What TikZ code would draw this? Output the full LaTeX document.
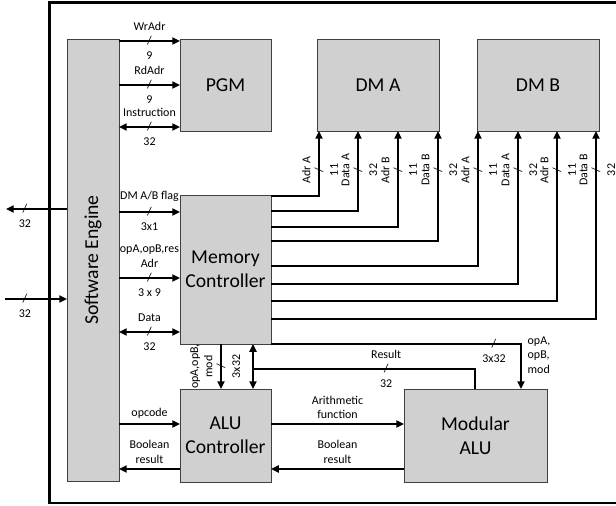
\documentclass[tikz,border=0pt]{standalone}
\usepackage{fontspec}
\setmainfont{Carlito}
\usepackage{graphicx}
\usetikzlibrary{arrows.meta,positioning}
\definecolor{boxgray}{RGB}{208,208,208}

\tikzset{
  blk/.style={draw=black!75, fill=boxgray, line width=0.6pt, inner sep=0pt,
    outer sep=0pt, align=center, font=\fontsize{14}{17}\selectfont},
  sig/.style={line width=1.4pt, -{Triangle[length=5.5pt,width=5pt]}},
  bidir/.style={line width=1.4pt,
    {Triangle[length=5.5pt,width=5pt]}-{Triangle[length=5.5pt,width=5pt]}},
  wire/.style={line width=1.4pt},
  lbl/.style={font=\fontsize{8.5}{10.3}\selectfont, inner sep=1pt, align=center},
  slash/.style={font=\fontsize{8.5}{10}\selectfont, inner sep=0pt},
  vl/.style={lbl, rotate=90, anchor=south, outer sep=5pt},
  vr/.style={lbl, rotate=90, anchor=north, outer sep=7pt},
}

\begin{document}
\begin{tikzpicture}[x=0.025cm, y=-0.025cm]
\useasboundingbox (0,0) rectangle (616,505);

% outer frame (right side runs off the page)
\draw[line width=1.7pt] (49.5,2.5) rectangle (680,502.8);

% blocks
\node[blk, minimum width=1.3cm, minimum height=11.05cm] (se) at (93,260) {\rotatebox{90}{Software Engine}};
\node[blk, minimum width=2.275cm, minimum height=2.3cm] (pgm) at (225.5,85) {PGM};
\node[blk, minimum width=3.05cm, minimum height=2.3cm] (dma) at (378,85) {DM A};
\node[blk, minimum width=3.05cm, minimum height=2.3cm] (dmb) at (538,85) {DM B};
\node[blk, minimum width=2.275cm, minimum height=3.725cm] (mc) at (225.5,269.5) {Memory\\Controller};
\node[blk, minimum width=2.275cm, minimum height=2.325cm] (aluc) at (225.5,435.5) {ALU\\Controller};
\node[blk, minimum width=3.575cm, minimum height=2.325cm] (malu) at (475.5,435.5) {Modular\\ALU};

% external ports
\coordinate (extout) at (6,209);
\coordinate (extin) at (5,299);
\draw[sig] (se.west |- extout) -- node[slash, pos=0.69] {/} node[lbl, pos=0.69, below=6pt] {32} (extout);
\draw[sig] (extin) -- node[slash, pos=0.32] {/} node[lbl, pos=0.32, below=6pt] {32} (se.west |- extin);

% software engine to PGM
\draw[sig] (se.east |- 0,41) -- node[lbl, above=6pt] {WrAdr} node[slash] {/} node[lbl, below=6pt] {9} (pgm.west |- 0,41);
\draw[sig] (se.east |- 0,85) -- node[lbl, above=6pt] {RdAdr} node[slash] {/} node[lbl, below=6pt] {9} (pgm.west |- 0,85);
\draw[bidir] (se.east |- 0,127) -- node[lbl, above=6pt] {Instruction} node[slash] {/} node[lbl, below=6pt] {32} (pgm.west |- 0,127);

% software engine to memory controller
\draw[sig] (se.east |- 0,212) -- node[lbl, above=6pt] {DM A/B flag} node[slash] {/} node[lbl, below=6pt] {3x1} (mc.west |- 0,212);
\draw[sig] (se.east |- 0,278) -- node[lbl, above=6pt] {opA,opB,res\\Adr} node[slash] {/} node[lbl, below=6pt] {3 x 9} (mc.west |- 0,278);
\draw[bidir] (se.east |- 0,332) -- node[lbl, above=6pt] {Data} node[slash] {/} node[lbl, below=6pt] {32} (mc.west |- 0,332);

% memory controller to data memories
\draw[sig] (mc.east |- 0,196) -| (319,170) node[vl] {Adr A} node[slash, rotate=90] {/} node[vr] {11} -- (dma.south -| 319,0);
\draw[sig] (mc.east |- 0,211) -| (358,170) node[vl] {Data A} node[slash, rotate=90] {/} node[vr] {32} -- (dma.south -| 358,0);
\draw[sig] (mc.east |- 0,227) -| (398,170) node[vl] {Adr B} node[slash, rotate=90] {/} node[vr] {11} -- (dma.south -| 398,0);
\draw[sig] (mc.east |- 0,241) -| (438,170) node[vl] {Data B} node[slash, rotate=90] {/} node[vr] {32} -- (dma.south -| 438,0);
\draw[sig] (mc.east |- 0,266) -| (478,170) node[vl] {Adr A} node[slash, rotate=90] {/} node[vr] {11} -- (dmb.south -| 478,0);
\draw[sig] (mc.east |- 0,284) -| (518,170) node[vl] {Data A} node[slash, rotate=90] {/} node[vr] {32} -- (dmb.south -| 518,0);
\draw[sig] (mc.east |- 0,301) -| (557,170) node[vl] {Adr B} node[slash, rotate=90] {/} node[vr] {11} -- (dmb.south -| 557,0);
\draw[sig] (mc.east |- 0,319) -| (596,170) node[vl] {Data B} node[slash, rotate=90] {/} node[vr] {32} -- (dmb.south -| 596,0);

% memory controller to the ALUs
\draw[sig] (mc.south -| 221,0) -- node[vl] {opA,opB,\\mod} node[slash, rotate=90] {/} node[vr] {3x32} (aluc.north -| 221,0);
\draw[bidir] (mc.south -| 253,0) -- (aluc.north -| 253,0);
\coordinate (res) at (253,369);
\draw[wire] (res) -| node[lbl, pos=0.3, above=6pt] {Result} node[slash, pos=0.3] {/} node[lbl, pos=0.3, below=6pt] {32} (malu.north -| 475,0);
\draw[sig] (mc.south east) -| node[slash, pos=0.446] {/} node[lbl, pos=0.446, below=6pt] {3x32} (malu.north -| 521,0);
\node[lbl, anchor=west, align=left] (opnote) at (526,355) {opA,\\opB,\\mod};

% ALU controller
\draw[sig] (se.east |- 0,424) -- node[lbl, above=2pt] {opcode} (aluc.west |- 0,424);
\draw[sig] (aluc.west |- 0,469) -- node[lbl, above=2.5pt] {Boolean\\result} (se.east |- 0,469);
\draw[sig] (aluc.east |- 0,424) -- node[lbl, above=2pt] {Arithmetic\\function} (malu.west |- 0,424);
\draw[sig] (malu.west |- 0,469) -- node[lbl, above=2.5pt] {Boolean\\result} (aluc.east |- 0,469);
\end{tikzpicture}
\end{document}
